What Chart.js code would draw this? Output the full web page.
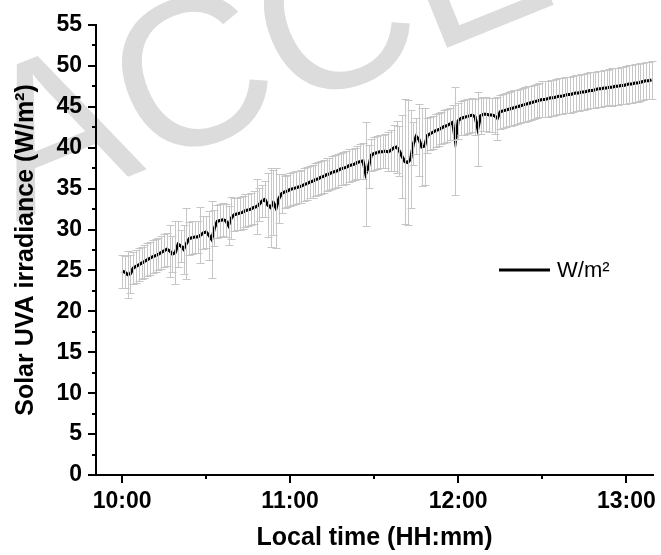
<!DOCTYPE html>
<html>
<head>
<meta charset="utf-8">
<script src="https://cdn.jsdelivr.net/npm/chart.js@4.4.1/dist/chart.umd.min.js"></script>
<style>
  html, body { margin: 0; padding: 0; background: #fff; }
  #wrap { width: 661px; height: 555px; }
</style>
</head>
<body>
<div id="wrap"><canvas id="uvaChart" width="661" height="555"></canvas></div>
<script>
// one reading per minute, starting at 10:00
const irradiance = [
    24.9, 24.8, 24.5, 24.6, 25.3, 25.5, 25.7, 25.9, 26.1, 26.3,
    26.5, 26.7, 26.8, 27.0, 27.2, 27.4, 27.6, 27.4, 27.0, 27.2,
    28.2, 28.0, 27.6, 28.3, 28.9, 29.0, 29.1, 29.1, 29.3, 29.6,
    29.7, 29.3, 28.8, 30.2, 31.0, 31.1, 31.2, 31.1, 30.5, 31.4,
    31.8, 31.9, 32.0, 32.1, 32.3, 32.4, 32.5, 32.7, 32.8, 33.1,
    33.5, 33.7, 33.0, 32.7, 33.3, 32.6, 33.8, 34.4, 34.6, 34.7,
    34.9, 35.0, 35.1, 35.2, 35.3, 35.5, 35.6, 35.8, 35.9, 36.1,
    36.2, 36.4, 36.5, 36.7, 36.8, 37.0, 37.1, 37.2, 37.4, 37.5,
    37.6, 37.8, 37.9, 38.0, 38.2, 38.3, 38.4, 36.8, 37.7, 39.1,
    39.3, 39.4, 39.5, 39.5, 39.6, 39.5, 39.7, 40.0, 40.1, 39.6,
    38.9, 38.3, 38.2, 38.6, 40.5, 41.4, 41.0, 40.1, 40.2, 41.5,
    41.7, 41.9, 42.1, 42.2, 42.4, 42.6, 42.7, 42.9, 43.1, 40.8,
    43.3, 43.6, 43.7, 43.8, 43.9, 44.0, 43.8, 42.3, 43.9, 44.1,
    44.1, 44.0, 44.0, 43.9, 43.6, 44.4, 44.5, 44.6, 44.7, 44.8,
    44.9, 45.0, 45.1, 45.2, 45.3, 45.4, 45.5, 45.6, 45.7, 45.8,
    45.9, 45.9, 46.0, 46.1, 46.1, 46.2, 46.3, 46.3, 46.4, 46.5,
    46.5, 46.6, 46.7, 46.7, 46.8, 46.8, 46.9, 47.0, 47.0, 47.1,
    47.2, 47.2, 47.3, 47.3, 47.4, 47.4, 47.5, 47.5, 47.6, 47.6,
    47.7, 47.8, 47.8, 47.9, 47.9, 48.0, 48.1, 48.2, 48.2, 48.3
];
// standard deviation of each reading
const errorBar = [
    2.0, 2.0, 2.9, 2.3, 2.0, 2.0, 2.0, 2.0, 2.0, 2.0,
    2.0, 2.0, 2.0, 2.0, 2.0, 2.0, 2.0, 3.2, 2.2, 3.8,
    2.8, 2.0, 3.0, 4.3, 2.0, 2.0, 2.0, 2.0, 3.4, 2.0,
    2.0, 3.0, 4.7, 2.2, 2.0, 2.0, 2.0, 2.0, 2.4, 2.6,
    2.0, 2.0, 2.0, 2.0, 2.0, 2.0, 2.0, 2.0, 3.4, 2.0,
    2.0, 2.2, 3.9, 4.8, 4.0, 4.9, 3.0, 2.4, 2.0, 2.0,
    2.0, 2.0, 2.0, 2.0, 2.0, 2.0, 2.0, 2.0, 2.0, 2.0,
    2.0, 2.0, 2.0, 2.0, 2.0, 2.0, 2.0, 2.0, 2.0, 2.0,
    2.0, 2.0, 2.0, 2.0, 2.0, 2.1, 2.2, 6.4, 2.6, 2.0,
    2.0, 2.0, 2.0, 2.0, 2.1, 2.4, 2.5, 2.8, 3.2, 3.0,
    5.1, 7.6, 7.6, 6.0, 2.6, 2.2, 4.4, 4.8, 4.7, 2.1,
    2.0, 2.0, 2.0, 2.0, 2.0, 2.0, 2.0, 2.0, 2.1, 6.6,
    2.2, 2.1, 2.1, 2.1, 2.1, 2.1, 2.2, 4.5, 2.2, 2.1,
    2.1, 2.1, 2.1, 2.2, 2.6, 2.1, 2.1, 2.1, 2.1, 2.1,
    2.1, 2.1, 2.1, 2.1, 2.1, 2.1, 2.1, 2.1, 2.1, 2.1,
    2.2, 2.2, 2.2, 2.2, 2.2, 2.2, 2.2, 2.2, 2.2, 2.2,
    2.2, 2.2, 2.2, 2.2, 2.2, 2.2, 2.2, 2.2, 2.2, 2.2,
    2.2, 2.2, 2.2, 2.2, 2.2, 2.3, 2.3, 2.3, 2.3, 2.3,
    2.3, 2.3, 2.3, 2.3, 2.3, 2.3, 2.3, 2.3, 2.3, 2.3
];
const minutes = irradiance.map((v, i) => i); // minutes after 10:00

const timeTicks = [0, 60, 120, 180];
const timeLabels = ['10:00', '11:00', '12:00', '13:00'];
const minorTimeTicks = [30, 90, 150];
const valueTicks = [0, 5, 10, 15, 20, 25, 30, 35, 40, 45, 50, 55];
const minorValueTicks = [2.5, 7.5, 12.5, 17.5, 22.5, 27.5, 32.5, 37.5, 42.5, 47.5, 52.5];

Chart.defaults.font.family = '"Liberation Sans", Arial, sans-serif';
Chart.defaults.color = '#000';

const watermark = {
    id: 'watermark',
    beforeDraw(chart) {
        const ctx = chart.ctx;
        ctx.save();
        ctx.translate(16, 222);
        ctx.rotate(-22 * Math.PI / 180);
        ctx.font = '212px "Liberation Sans", Arial, sans-serif';
        ctx.fillStyle = '#dcdcdc';
        ctx.fillText('ACCEPTED', 0, 0);
        ctx.restore();
    }
};

// grey whiskers are drawn over the mean line
const errorBars = {
    id: 'errorBars',
    afterDatasetsDraw(chart) {
        const ctx = chart.ctx;
        const xs = chart.scales.x, ys = chart.scales.y;
        ctx.save();
        ctx.strokeStyle = '#c6c6c6';
        ctx.lineWidth = 1;
        ctx.beginPath();
        minutes.forEach((m, i) => {
            if (m > xs.max) return;
            const x = Math.round(xs.getPixelForValue(m)) + 0.5;
            const top = Math.round(ys.getPixelForValue(irradiance[i] + errorBar[i])) + 0.5;
            const bot = Math.round(ys.getPixelForValue(irradiance[i] - errorBar[i])) + 0.5;
            ctx.moveTo(x, top); ctx.lineTo(x, bot);
            ctx.moveTo(x - 4, top); ctx.lineTo(x + 4, top);
            ctx.moveTo(x - 4, bot); ctx.lineTo(x + 4, bot);
        });
        ctx.stroke();
        ctx.restore();
    }
};

const minorTicks = {
    id: 'minorTicks',
    afterDraw(chart) {
        const ctx = chart.ctx;
        const xs = chart.scales.x, ys = chart.scales.y;
        const area = chart.chartArea;
        ctx.save();
        ctx.strokeStyle = '#000';
        ctx.lineWidth = 2;
        ctx.beginPath();
        minorTimeTicks.forEach(v => {
            const x = Math.round(xs.getPixelForValue(v));
            ctx.moveTo(x, area.bottom); ctx.lineTo(x, area.bottom + 4);
        });
        minorValueTicks.forEach(v => {
            const y = Math.round(ys.getPixelForValue(v));
            ctx.moveTo(area.left, y); ctx.lineTo(area.left - 4, y);
        });
        ctx.stroke();

        // legend entry
        const ds = chart.data.datasets[0];
        ctx.strokeStyle = ds.borderColor;
        ctx.lineWidth = 3;
        ctx.beginPath();
        ctx.moveTo(499, 270); ctx.lineTo(550, 270);
        ctx.stroke();
        ctx.fillStyle = '#000';
        ctx.font = '22px "Liberation Sans", Arial, sans-serif';
        ctx.textBaseline = 'middle';
        ctx.fillText(ds.label, 557, 271);
        ctx.restore();
    }
};

new Chart(document.getElementById('uvaChart'), {
    type: 'line',
    data: {
        datasets: [{
            label: 'W/m²',
            data: minutes.map((m, i) => ({ x: m, y: irradiance[i] })),
            borderColor: '#000',
            borderWidth: 3,
            pointRadius: 0,
            tension: 0,
            fill: false
        }]
    },
    options: {
        responsive: false,
        animation: false,
        events: [],
        layout: { padding: { top: 25, right: 6, left: 0, bottom: 0 } },
        plugins: {
            legend: { display: false },
            tooltip: { enabled: false }
        },
        scales: {
            x: {
                type: 'linear',
                min: -9.3,
                max: 189.6,
                afterBuildTicks: s => { s.ticks = timeTicks.map(v => ({ value: v })); },
                afterFit: s => { s.height = 80; },
                ticks: {
                    callback: (v, i) => timeLabels[i],
                    font: { size: 23, weight: 'bold' },
                    padding: 5,
                    maxRotation: 0,
                    autoSkip: false
                },
                grid: { drawOnChartArea: false, tickLength: 8, color: '#000', lineWidth: 2 },
                border: { color: '#000', width: 2 },
                title: {
                    display: true,
                    text: 'Local time (HH:mm)',
                    font: { size: 25, weight: 'bold' },
                    padding: { top: 0, bottom: 2 }
                }
            },
            y: {
                min: 0,
                max: 55,
                afterBuildTicks: s => { s.ticks = valueTicks.map(v => ({ value: v })); },
                afterFit: s => { s.width = 96; },
                ticks: {
                    font: { size: 23, weight: 'bold' },
                    padding: 6
                },
                grid: { drawOnChartArea: false, tickLength: 8, color: '#000', lineWidth: 2 },
                border: { color: '#000', width: 2 },
                title: {
                    display: true,
                    text: 'Solar UVA irradiance (W/m²)',
                    font: { size: 25, weight: 'bold' },
                    padding: { top: 11, bottom: 0 }
                }
            }
        }
    },
    plugins: [watermark, errorBars, minorTicks]
});
</script>
</body>
</html>
